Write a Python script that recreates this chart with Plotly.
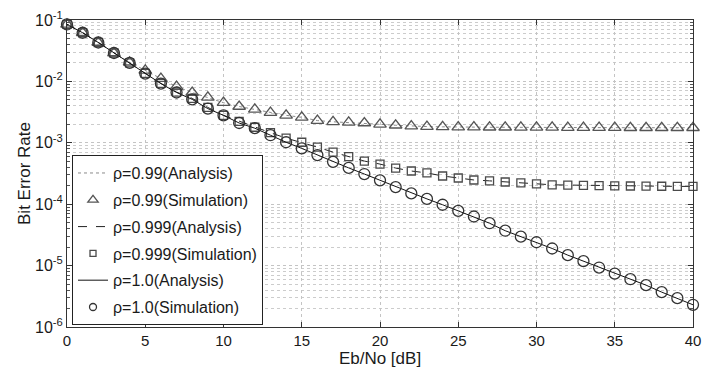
import plotly.graph_objects as go

# Eb/No grid in dB
snr_db = list(range(0, 41))

# Bit error rate for the three correlation coefficients
ber_rho_099 = [
    0.085, 0.062, 0.043, 0.029, 0.0205, 0.0151, 0.0111, 0.0082, 0.0066, 0.0055,
    0.0045, 0.0039, 0.0035, 0.0031, 0.0028, 0.0026, 0.0023, 0.0022, 0.00215, 0.0021,
    0.0020, 0.00193, 0.00187, 0.00184, 0.00182, 0.0018, 0.0018, 0.00179, 0.00179, 0.00178,
    0.00178, 0.00178, 0.00177, 0.00177, 0.00177, 0.00177, 0.00176, 0.00176, 0.00176, 0.00176,
    0.00176,
]
ber_rho_0999 = [
    0.085, 0.062, 0.043, 0.029, 0.020, 0.0135, 0.0093, 0.0067, 0.0053, 0.00377,
    0.0028, 0.00224, 0.00179, 0.00146, 0.00119, 0.00102, 8.5e-4, 7.05e-4, 5.96e-4, 5.04e-4,
    4.5e-4, 3.88e-4, 3.47e-4, 3.23e-4, 2.88e-4, 2.67e-4, 2.48e-4, 2.4e-4, 2.3e-4, 2.23e-4,
    2.14e-4, 2.07e-4, 2.05e-4, 2.03e-4, 2.0e-4, 1.99e-4, 1.98e-4, 1.97e-4, 1.96e-4, 1.95e-4,
    1.95e-4,
]
ber_rho_1 = [
    0.085, 0.062, 0.043, 0.029, 0.020, 0.0134, 0.0092, 0.0066, 0.0051, 0.0036,
    0.0028, 0.0021, 0.00173, 0.00133, 0.00102, 8.1e-4, 6.3e-4, 4.9e-4, 3.9e-4, 3.1e-4,
    2.45e-4, 1.9e-4, 1.5e-4, 1.22e-4, 9.8e-5, 7.8e-5, 6.3e-5, 4.9e-5, 3.7e-5, 2.96e-5,
    2.4e-5, 1.9e-5, 1.48e-5, 1.18e-5, 9.3e-6, 7.4e-6, 6.0e-6, 4.8e-6, 3.7e-6, 2.95e-6,
    2.3e-6,
]

# Axis ticks
x_ticks = [0, 5, 10, 15, 20, 25, 30, 35, 40]
y_ticks = [1e-6, 1e-5, 1e-4, 1e-3, 1e-2, 1e-1]
y_tick_text = ["10<sup>-6</sup>", "10<sup>-5</sup>", "10<sup>-4</sup>",
               "10<sup>-3</sup>", "10<sup>-2</sup>", "10<sup>-1</sup>"]
y_minor = [m * d for d in y_ticks[:-1] for m in range(2, 10)]

FONT = "Liberation Sans, Arial, sans-serif"

fig = go.Figure()

def add_pair(name, values, dash, line_color, symbol, msize, legend_msize, mcolor):
    line = dict(color=line_color, width=1, dash=dash)
    marker = dict(symbol=symbol, size=msize, color=mcolor,
                  line=dict(color=mcolor, width=1.3))
    # curves and simulation points
    fig.add_trace(go.Scatter(x=snr_db, y=values, mode="lines", line=line,
                             showlegend=False, cliponaxis=False))
    fig.add_trace(go.Scatter(x=snr_db, y=values, mode="markers", marker=marker,
                             showlegend=False, cliponaxis=False))

def add_legend_pair(name, dash, line_color, symbol, legend_msize, mcolor):
    # legend entries with compact symbols, one group per row for spacing
    fig.add_trace(go.Scatter(x=[None], y=[None], mode="lines",
                             line=dict(color=line_color, width=1, dash=dash),
                             name=f"ρ={name}(Analysis)",
                             legendgroup=f"{name}a"))
    fig.add_trace(go.Scatter(x=[None], y=[None], mode="markers",
                             marker=dict(symbol=symbol, size=legend_msize, color=mcolor,
                                         line=dict(color=mcolor, width=1.3)),
                             name=f"ρ={name}(Simulation)",
                             legendgroup=f"{name}s"))

add_pair("0.99", ber_rho_099, "dot", "#8a8a8a", "triangle-up-open", 11, 9, "#555555")
add_pair("0.999", ber_rho_0999, "dash", "#222222", "square-open", 8, 6, "#4a4a4a")
add_pair("1.0", ber_rho_1, "solid", "#111111", "circle-open", 11, 7, "#333333")

add_legend_pair("0.99", "dot", "#8a8a8a", "triangle-up-open", 9, "#555555")
add_legend_pair("0.999", "dash", "#222222", "square-open", 6, "#4a4a4a")
add_legend_pair("1.0", "solid", "#111111", "circle-open", 7, "#333333")

grid = dict(showgrid=True, gridcolor="#c4c4c4", griddash="dot", gridwidth=1)

fig.update_layout(
    width=710, height=372,
    margin=dict(l=67, r=9, t=20, b=43),
    paper_bgcolor="white", plot_bgcolor="white",
    font=dict(family=FONT, size=15, color="#1a1a1a"),
    showlegend=True,
    legend=dict(
        x=0.008, y=0.56, xanchor="left", yanchor="top",
        bgcolor="white", bordercolor="#222222", borderwidth=1,
        font=dict(family=FONT, size=16, color="#1a1a1a"),
        tracegroupgap=3, traceorder="grouped", itemwidth=30,
    ),
    xaxis=dict(
        range=[0, 40], tickvals=x_ticks, ticks="inside", ticklen=5,
        tickcolor="#333333", showline=True, linecolor="#333333", linewidth=1,
        mirror="allticks", zeroline=False, tickfont=dict(size=15),
        title=dict(text="Eb/No [dB]", font=dict(size=17), standoff=2),
        **grid,
    ),
    yaxis=dict(
        type="log", range=[-6, -1], tickvals=y_ticks, ticktext=y_tick_text,
        ticks="inside", ticklen=5, tickcolor="#333333", tickfont=dict(size=16),
        showline=True, linecolor="#333333", linewidth=1, mirror="allticks",
        zeroline=False,
        title=dict(text="Bit Error Rate", font=dict(size=17), standoff=0),
        minor=dict(tickvals=y_minor, ticks="inside", ticklen=3,
                   tickcolor="#555555", showgrid=True, gridcolor="#cccccc",
                   griddash="dot", gridwidth=1),
        **grid,
    ),
)

fig.write_html("out.html")
